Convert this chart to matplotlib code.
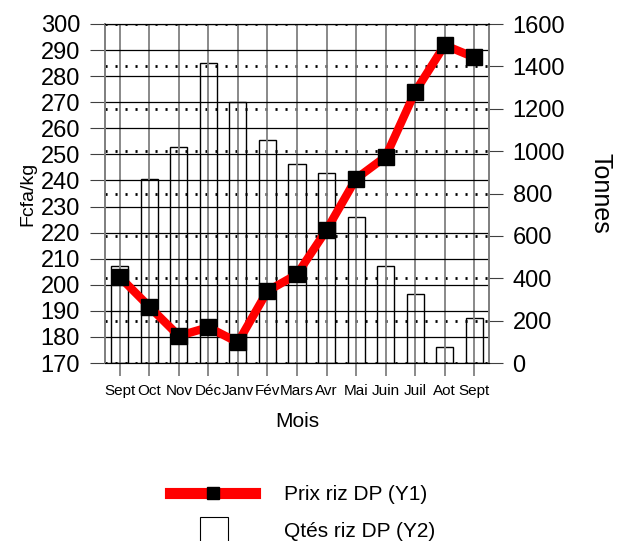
import matplotlib
matplotlib.use('Agg')
import matplotlib.pyplot as plt
from matplotlib.lines import Line2D
from matplotlib.patches import Patch, Rectangle
from matplotlib.legend_handler import HandlerPatch

plt.rcParams['font.family'] = ['Liberation Sans', 'DejaVu Sans']

# donnees
mois = ['Sept', 'Oct', 'Nov', 'Déc', 'Janv', 'Fév', 'Mars', 'Avr', 'Mai',
        'Juin', 'Juil', 'Aot', 'Sept']
prix = [203.0, 191.6, 180.4, 183.7, 177.9, 197.6, 204.0, 221.0, 240.7,
        249.1, 274.0, 291.9, 287.2]
qtes = [459, 868, 1019, 1418, 1234, 1053, 940, 895, 687, 459, 324, 74, 212]
y1_ticks = list(range(170, 301, 10))
y2_ticks = list(range(0, 1601, 200))

x = list(range(len(mois)))
gris = '#808080'

fig = plt.figure(figsize=(6.17, 5.41), dpi=100)
ax1 = fig.add_axes([105/617, 1 - 363/541, (489 - 105)/617, (363 - 24)/541])
ax2 = ax1.twinx()

# barres (axe Y2) sans remplissage
ax2.bar(x, qtes, width=0.58, facecolor='none', edgecolor='black', linewidth=1.0)
ax2.set_ylim(0, 1600)
ax2.set_yticks(y2_ticks)
ax2.yaxis.grid(True, color='black', linestyle=(0, (0.75, 2.85)), linewidth=2.0)
ax2.set_axisbelow(True)

# courbe prix (axe Y1) au-dessus des barres
ax1.set_zorder(ax2.get_zorder() + 1)
ax1.patch.set_visible(False)
ax1.plot(x, prix, color='red', linewidth=6, marker='s', markersize=11.5,
         markerfacecolor='black', markeredgecolor='black', zorder=5)
ax1.set_ylim(170, 300)
ax1.set_yticks(y1_ticks)
ax1.set_xlim(-0.5, len(mois) - 0.5)
ax1.set_xticks(x)
ax1.set_xticklabels(mois, fontsize=11)
ax1.yaxis.grid(True, color='black', linewidth=0.9)
ax1.xaxis.grid(True, color=gris, linewidth=1.3)

ax1.tick_params(axis='y', labelsize=17, length=11, pad=7, color='#404040')
ax1.tick_params(axis='x', length=9, pad=6, color=gris, width=1.3)
ax2.tick_params(axis='y', labelsize=17, length=10, pad=7, color='#404040')

for ax in (ax1, ax2):
    ax.spines['left'].set_color(gris)
    ax.spines['right'].set_color(gris)
    ax.spines['left'].set_linewidth(1.3)
    ax.spines['right'].set_linewidth(1.3)
    ax.spines['top'].set_color('black')
    ax.spines['bottom'].set_color('black')

ax1.set_xlabel('Mois', fontsize=15, labelpad=10)
ax1.set_ylabel('Fcfa/kg', fontsize=14, labelpad=3)
ax2.set_ylabel('Tonnes', fontsize=18, rotation=-90, labelpad=34)


def petit_carre(legend, orig_handle, xdescent, ydescent, width, height, fontsize):
    w = 0.33 * width
    h = 1.9 * height
    cx = -xdescent + width / 2 + 1
    cy = -ydescent + height / 2 - 1
    return Rectangle((cx - w / 2, cy - h / 2), w, h)


handles = [Line2D([], [], color='red', linewidth=8, marker='s', markersize=9,
                  markerfacecolor='black', markeredgecolor='black'),
           Patch(facecolor='white', edgecolor='black', linewidth=0.8)]
fig.legend(handles, ['Prix riz DP (Y1)', 'Qtés riz DP (Y2)'],
           loc='upper left', bbox_to_anchor=(170/617, 1 - 485/541),
           frameon=False, fontsize=15, handlelength=4.1, handletextpad=1.35,
           labelspacing=0.86, borderpad=0, borderaxespad=0,
           handler_map={Patch: HandlerPatch(patch_func=petit_carre)})

fig.savefig('out.png', dpi=100)
